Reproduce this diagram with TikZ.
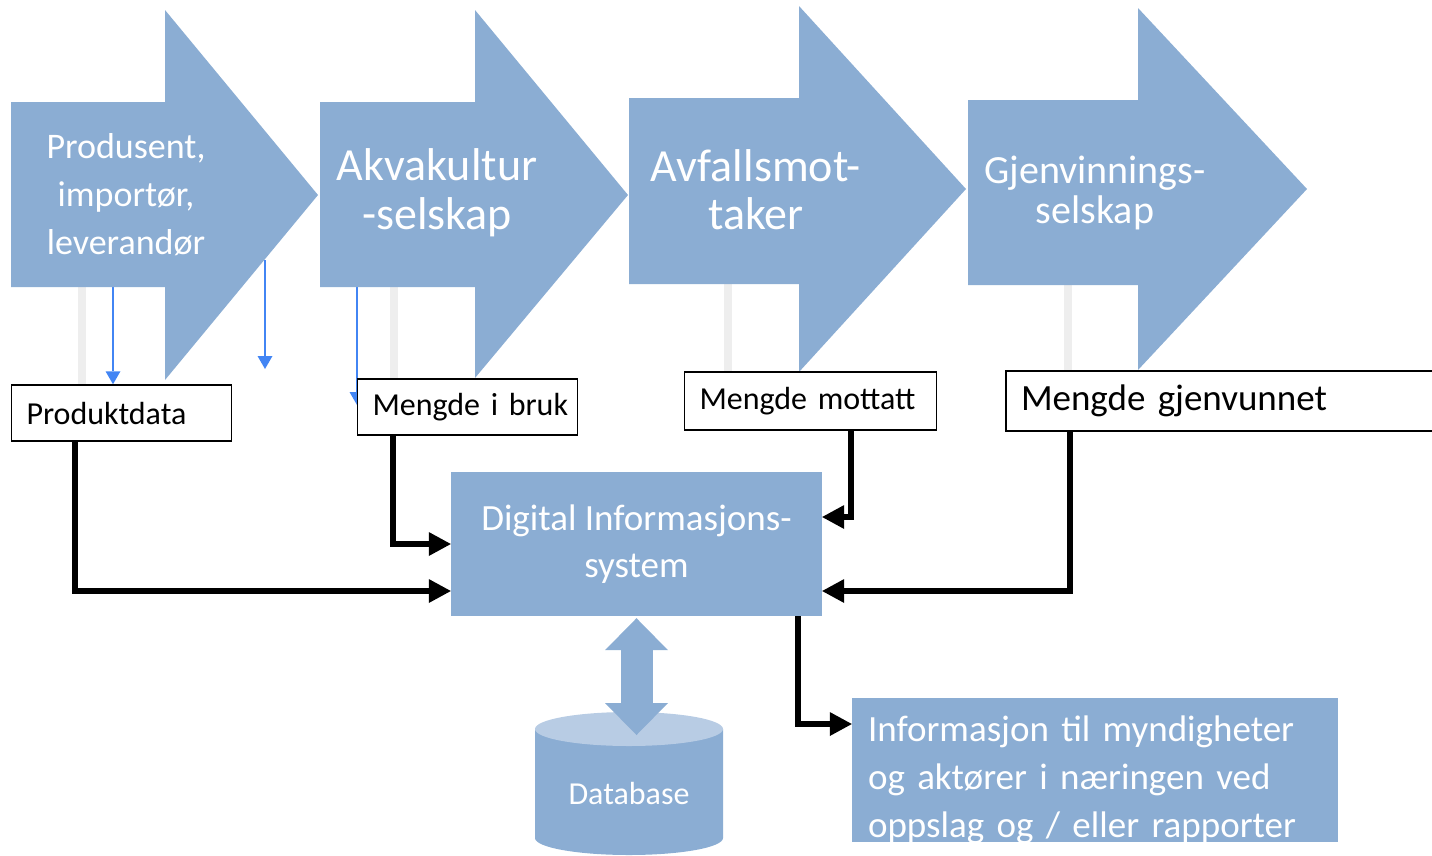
\documentclass[tikz,border=0pt]{standalone}
\usepackage{fontspec}
\setmainfont{Carlito}
\usetikzlibrary{arrows.meta,positioning,calc,backgrounds}
\definecolor{stageblue}{RGB}{139,173,211}
\definecolor{stagelight}{RGB}{184,204,228}
\definecolor{ghostgray}{RGB}{238,238,238}
\definecolor{linkblue}{RGB}{66,133,244}

\begin{document}
\begin{tikzpicture}[
    x=1pt, y=-1pt,
    stage/.style={fill=stageblue},
    stagetext/.style={text=white, align=center},
    field/.style={draw=black, line width=1.5pt, fill=white, align=left, inner xsep=15pt, inner ysep=0pt, font=\fontsize{32}{38}\selectfont},
    flow/.style={-{Triangle[length=22pt,width=24pt,line width=0pt]}, line width=6pt},
    ghost/.style={draw=ghostgray, line width=8pt},
    link/.style={-{Triangle[length=13pt,width=15pt,line width=0pt]}, draw=linkblue, line width=2pt},
    dbl/.style={{Triangle[length=32pt,width=63pt,line width=0pt]}-{Triangle[length=32pt,width=63pt,line width=0pt]}, draw=stageblue, line width=32pt}
]
\useasboundingbox (0,0) rectangle (1432,855);

% Value chain stages
\fill[stage] (11,102) -- (165,102) -- (165,10) -- (318,195) -- (165,380) -- (165,287) -- (11,287) -- cycle;
\fill[stage] (320,102) -- (475,102) -- (475,10) -- (628,195) -- (475,378) -- (475,287) -- (320,287) -- cycle;
\fill[stage] (629,98) -- (799,98) -- (799,6) -- (966,189) -- (799,372) -- (799,284) -- (629,284) -- cycle;
\fill[stage] (968,100) -- (1138,100) -- (1138,8) -- (1307,189) -- (1138,370) -- (1138,285) -- (968,285) -- cycle;

\node[stagetext, font=\fontsize{36}{48}\selectfont] (produsent) at (126,195) {Produsent,\\importør,\\leverandør};
\node[stagetext, font=\fontsize{46}{49}\selectfont] (akvakultur) at (437,193) {Akvakultur\\-selskap};
\node[stagetext, font=\fontsize{46}{48}\selectfont] (avfall) at (756,190) {Avfallsmot-\\taker};
\node[stagetext, font=\fontsize{40}{40}\selectfont] (gjenvinning) at (1095,193) {Gjenvinnings-\\selskap};

% Data fields
\node[field, text width=190pt, minimum height=56pt] (prod) at (121.5,413) {Produktdata};
\node[field, text width=190pt, minimum height=56pt] (mib) at (467.5,407) {\mbox{Mengde i bruk}};
\node[field, text width=222pt, minimum height=58pt] (mmt) at (810.5,401) {Mengde mottatt};
\node[field, text width=430pt, minimum height=60pt, font=\fontsize{37}{44}\selectfont] (mgj) at (1236,401) {Mengde gjenvunnet};

% System, database and report
\node[stage, text=white, minimum width=371pt, minimum height=144pt, align=center, font=\fontsize{37}{47}\selectfont] (dis) at (636.5,544) {Digital Informasjons-\\system};
\node[stage, minimum width=486pt, minimum height=144pt] (info) at (1095,770) {};
\node[text=white, text width=454pt, inner sep=0pt, align=left, font=\fontsize{37}{48}\selectfont] (infotext) at ($(info)+(0,10)$) {Informasjon til myndigheter\\og aktører i næringen ved\\oppslag og / eller rapporter};

\fill[stage] (535,729) -- (535,838) arc[start angle=180, end angle=0, x radius=94, y radius=17] -- (723,729) -- cycle;
\fill[stagelight] (629,729) ellipse (94 and 17);
\node[text=white, font=\fontsize{32}{38}\selectfont] (db) at (629,793) {Database};
\coordinate (dbtop) at (636.5,735);

% Helper lines behind the fields
\begin{scope}[on background layer]
    \coordinate (g1) at (82,287);
    \coordinate (g2) at (394,287);
    \coordinate (g3) at (728,280);
    \coordinate (g4) at (1068,280);
    \draw[ghost] (g1) -- (g1 |- prod.north);
    \draw[ghost] (g2) -- (g2 |- mib.north);
    \draw[ghost] (g3) -- (g3 |- mmt.north);
    \draw[ghost] (g4) -- (g4 |- mgj.north);
    \coordinate (l1) at (113,287);
    \coordinate (l2a) at (265,260);
    \coordinate (l2b) at (265,369);
    \coordinate (l3a) at (357,287);
    \coordinate (l3b) at (357,405);
    \draw[link] (l1) -- (l1 |- prod.north);
    \draw[link] (l2a) -- (l2b);
    \draw[link] (l3a) -- (l3b);
\end{scope}

% Arrows - data into the system
\draw[flow] ($(prod.south west)+(64,0)$) |- ($(dis.west)+(0,47)$);
\draw[flow] ($(mib.south west)+(36,0)$) |- (dis.west);
\draw[flow] ($(mmt.south west)+(167,0)$) |- ($(dis.east)+(0,-27)$);
\draw[flow] ($(mgj.south west)+(65,0)$) |- ($(dis.east)+(0,47)$);

% Arrows - out of the system
\draw[flow] ($(dis.south east)+(-24,0)$) |- ($(info.west)+(0,-46)$);
\draw[dbl] ($(dis.south)+(0,2)$) -- (dbtop);

\end{tikzpicture}
\end{document}
